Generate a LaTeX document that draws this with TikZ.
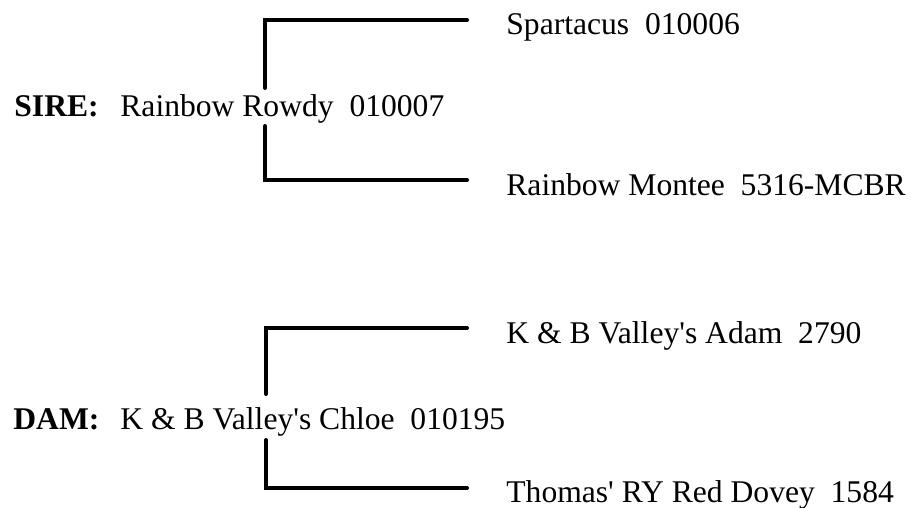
\documentclass[tikz,border=0pt]{standalone}
\usepackage{fontspec}
\setmainfont{Liberation Serif}[Ligatures=TeXOff]
\tikzset{
	horse/.style={anchor=base west, inner sep=0pt, font=\fontsize{15.8}{18}\selectfont},
	role/.style={horse, font=\fontsize{15.8}{18}\selectfont\bfseries},
	bracket/.style={line width=2pt, line cap=round, line join=miter}
}
\begin{document}
\begin{tikzpicture}[x=0.5pt, y=-0.5pt]
	\useasboundingbox (0,0) rectangle (911,508);
	% sire side
	\node[role] (sirelabel) at (14,117) {SIRE:};
	\node[horse] (rowdy) at (120,117) {Rainbow Rowdy\ \ 010007};
	\node[horse] (spartacus) at (506,35) {Spartacus\ \ 010006};
	\node[horse] (montee) at (506,196) {Rainbow Montee\ \ 5316-MCBR};
	\coordinate (sireup) at (265,88);
	\coordinate (siredown) at (265,126);
	\coordinate (spartacusend) at (467,20);
	\coordinate (monteeend) at (467,180);
	\draw[bracket] (sireup) |- (spartacusend);
	\draw[bracket] (siredown) |- (monteeend);
	% dam side
	\node[role] (damlabel) at (13,429) {DAM:};
	\node[horse] (chloe) at (120,429) {K \& B Valley's Chloe\ \ 010195};
	\node[horse] (adam) at (506,343) {K \& B Valley's Adam\ \ 2790};
	\node[horse] (dovey) at (506,502) {Thomas' RY Red Dovey\ \ 1584};
	\coordinate (damup) at (266,394);
	\coordinate (damdown) at (266,440);
	\coordinate (adamend) at (467,328);
	\coordinate (doveyend) at (467,488);
	\draw[bracket] (damup) |- (adamend);
	\draw[bracket] (damdown) |- (doveyend);
\end{tikzpicture}
\end{document}
